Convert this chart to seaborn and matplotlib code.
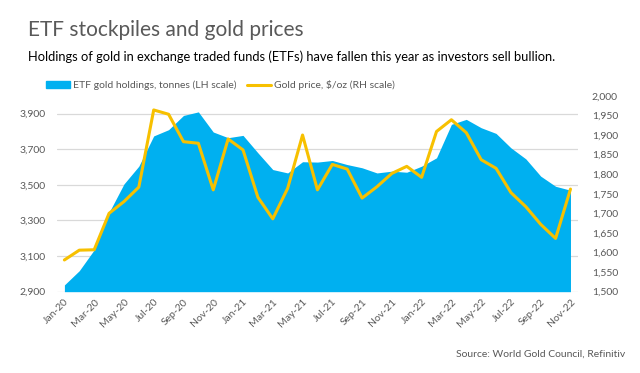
import matplotlib
matplotlib.use("Agg")
import matplotlib.pyplot as plt
import seaborn as sns
import pandas as pd
import numpy as np
from matplotlib.patches import Patch
from matplotlib.lines import Line2D
from matplotlib.ticker import FuncFormatter, FixedLocator

months = ["Jan-20","Feb-20","Mar-20","Apr-20","May-20","Jun-20","Jul-20","Aug-20","Sep-20","Oct-20","Nov-20","Dec-20",
          "Jan-21","Feb-21","Mar-21","Apr-21","May-21","Jun-21","Jul-21","Aug-21","Sep-21","Oct-21","Nov-21","Dec-21",
          "Jan-22","Feb-22","Mar-22","Apr-22","May-22","Jun-22","Jul-22","Aug-22","Sep-22","Oct-22","Nov-22"]
etf_tonnes = [2938, 3018, 3135, 3345, 3505, 3605, 3775, 3810, 3890, 3910, 3797, 3765,
              3778, 3680, 3586, 3567, 3630, 3628, 3637, 3614, 3596, 3567, 3577, 3571,
              3605, 3652, 3840, 3868, 3821, 3789, 3708, 3646, 3549, 3492, 3470]
gold_price = [1581, 1606, 1607, 1700, 1730, 1767, 1964, 1953, 1883, 1879, 1760, 1890,
              1862, 1741, 1686, 1764, 1900, 1760, 1825, 1813, 1739, 1768, 1802, 1820,
              1792, 1909, 1939, 1906, 1837, 1815, 1753, 1717, 1672, 1636, 1762]

df = pd.DataFrame({"month": months, "idx": np.arange(len(months)),
                   "etf": etf_tonnes, "gold": gold_price})

sns.set_theme(style="white")
plt.rcParams["font.family"] = ["Lato", "DejaVu Sans"]

BLUE = "#00B0F0"
GOLD = "#F7C000"
GREY = "#595959"

fig = plt.figure(figsize=(6.4, 3.73), dpi=100)
ax = fig.add_axes([0.089, 0.218, 0.814, 0.525])
ax2 = ax.twinx()

ax.fill_between(df["idx"], 2900, df["etf"], color=BLUE, lw=0, zorder=2)
sns.lineplot(data=df, x="idx", y="gold", ax=ax2, color=GOLD, lw=2.2, zorder=3)

ax.set_xlim(-0.5, len(months) - 0.5)
ax.set_ylim(2900, 4000)
ax2.set_ylim(1500, 2000)
ax.set_yticks(np.arange(2900, 3901, 200))
ax2.set_yticks(np.arange(1500, 2001, 50))
fmt = FuncFormatter(lambda v, p: f"{int(v):,}")
ax.yaxis.set_major_formatter(fmt)
ax2.yaxis.set_major_formatter(fmt)
ax.set_xticks(df["idx"][::2])
ax.set_xticklabels(df["month"][::2], rotation=45, ha="right", rotation_mode="anchor")
ax.xaxis.set_minor_locator(FixedLocator(np.arange(-0.5, len(months), 2)))
ax.grid(axis="y", color="#D9D9D9", lw=0.9)
ax.set_axisbelow(True)
for a in (ax, ax2):
    for s in a.spines.values():
        s.set_visible(False)
    a.tick_params(length=0, labelsize=7.5, colors=GREY)
    a.set_xlabel("")
    a.set_ylabel("")
ax.tick_params(axis="x", which="minor", length=3, width=0.8, color="#D9D9D9", direction="out")
ax.tick_params(axis="y", pad=8)
ax2.tick_params(axis="y", pad=10)
ax.tick_params(axis="x", which="major", pad=4)

fig.text(0.043, 0.92, "ETF stockpiles and gold prices", fontsize=15, color=GREY, va="center")
fig.text(0.043, 0.847, "Holdings of gold in exchange traded funds (ETFs) have fallen this year as investors sell bullion.",
         fontsize=9.25, color="black", va="center")
handles = [Patch(color=BLUE, label="ETF gold holdings, tonnes (LH scale)"),
           Line2D([0], [0], color=GOLD, lw=2.2, label="Gold price, $/oz (RH scale)")]
fig.legend(handles=handles, loc="center left", bbox_to_anchor=(0.058, 0.772), ncol=2, frameon=False,
           fontsize=7.5, labelcolor=GREY, handlelength=2.3, handletextpad=0.25, columnspacing=1.0,
           handleheight=0.6)
fig.text(0.977, 0.05, "Source: World Gold Council, Refinitiv", fontsize=7.5, color=GREY, ha="right", va="center")

fig.savefig("out.png", dpi=100)
